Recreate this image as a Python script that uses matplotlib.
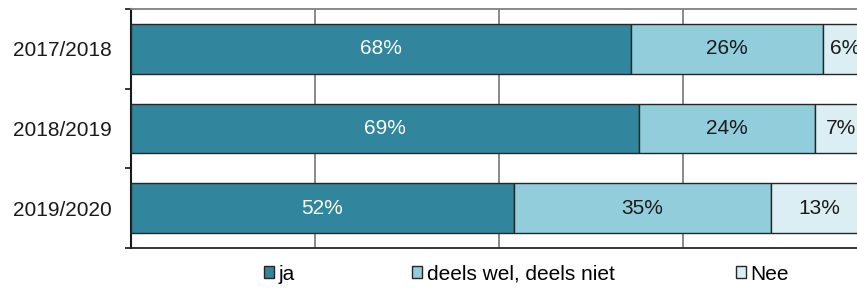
import matplotlib
matplotlib.use("Agg")
import matplotlib.pyplot as plt
from matplotlib.patches import Patch
import numpy as np

categories = ["2017/2018", "2018/2019", "2019/2020"]
series_names = ["ja", "deels wel, deels niet", "Nee"]
ja = [68, 69, 52]
deels = [26, 24, 35]
nee = [6, 7, 13]
colors = ["#31859C", "#92CDDC", "#DBEEF3"]
text_colors = ["white", "#1a1a1a", "#1a1a1a"]

plt.rcParams['font.family'] = ['Liberation Sans', 'DejaVu Sans']

fig = plt.figure(figsize=(8.57, 2.90), dpi=100)
ax = fig.add_axes([131/857, 42/290, 726/857, 239/290])

y = np.arange(len(categories))
left = np.zeros(len(categories))
for vals, col, tc in zip([ja, deels, nee], colors, text_colors):
    bars = ax.barh(y, vals, left=left, height=0.62, color=col,
                   edgecolor="#262626", linewidth=1.0, zorder=3)
    for b, v in zip(bars, vals):
        ax.text(b.get_x() + b.get_width()/2, b.get_y() + b.get_height()/2,
                f"{v}%", ha="center", va="center", color=tc,
                fontsize=15, zorder=4)
    left = left + np.array(vals)

ax.set_xlim(0, 98.64)
ax.set_ylim(2.5, -0.5)
ax.set_xticks([25, 50, 75])
ax.set_xticklabels([])
ax.tick_params(axis='x', length=0)
ax.grid(axis='x', color="#808080", linewidth=1.3, zorder=0)

ax.set_yticks(y)
ax.set_yticklabels(categories, fontsize=15, color="#1a1a1a")
ax.tick_params(axis='y', which='major', length=0, pad=13.5)
ax.set_yticks([-0.5, 0.5, 1.5, 2.5], minor=True)
ax.tick_params(axis='y', which='minor', length=4.5, width=1.3, color="#262626")

ax.spines['right'].set_visible(False)
ax.spines['top'].set_color("#808080")
ax.spines['top'].set_linewidth(1.3)
ax.spines['bottom'].set_color("#262626")
ax.spines['bottom'].set_linewidth(1.3)
ax.spines['left'].set_color("#1a1a1a")
ax.spines['left'].set_linewidth(1.5)

xs = [264, 412, 736]
for name, col, x in zip(series_names, colors, xs):
    h = Patch(facecolor=col, edgecolor="#262626", linewidth=1.0)
    fig.legend(handles=[h], labels=[name], loc="center left",
               bbox_to_anchor=(x/857, 16/290), frameon=False,
               fontsize=15, handlelength=0.5, handleheight=0.5,
               handletextpad=0.2, borderpad=0, borderaxespad=0)

fig.savefig("out.png", dpi=100)
